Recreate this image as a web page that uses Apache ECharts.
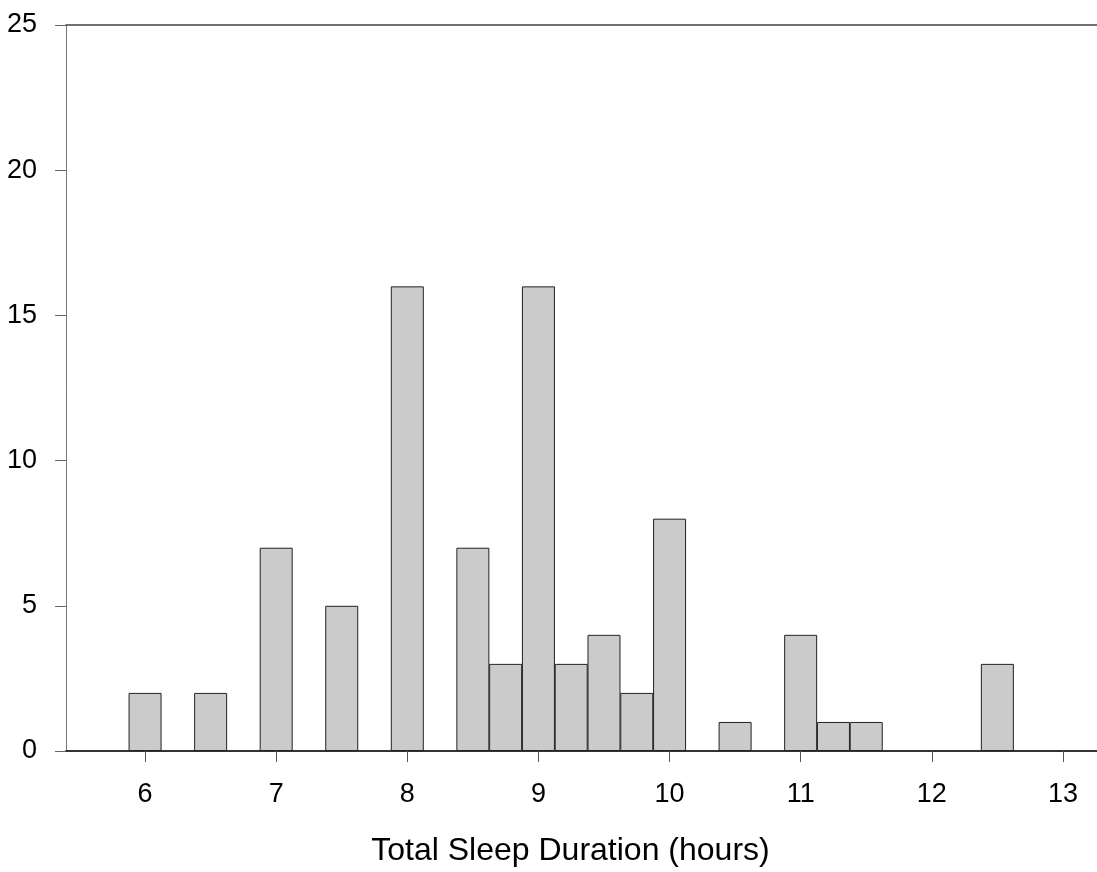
<!DOCTYPE html>
<html>
<head>
<meta charset="utf-8">
<script src="https://cdn.jsdelivr.net/npm/echarts@6/dist/echarts.min.js"></script>
<style>
html, body { margin: 0; padding: 0; background: #fff; }
#container { width: 1097px; height: 872px; }
</style>
</head>
<body>
<div id="container"></div>
<script>
// bin centres (hours) and counts
var hours = [6, 6.5, 7, 7.5, 8, 8.5, 8.75, 9, 9.25, 9.5, 9.75, 10, 10.5, 11, 11.25, 11.5, 12.5];
var counts = [2, 2, 7, 5, 16, 7, 3, 16, 3, 4, 2, 8, 1, 4, 1, 1, 3];
var xTicks = [6, 7, 8, 9, 10, 11, 12, 13];
var yTicks = [0, 5, 10, 15, 20, 25];

var dom = document.getElementById('container');
var myChart = echarts.init(dom);

var data = [];
for (var i = 0; i < hours.length; i++) {
    data.push([hours[i], counts[i]]);
}

var labelFont = { fontFamily: 'Liberation Sans', fontSize: 27, color: '#000' };

var option = {
    animation: false,
    grid: { left: 66, right: 0, top: 25, bottom: 120 },
    xAxis: [{
        type: 'value',
        min: 5.397,
        max: 13.26,
        splitLine: { show: false },
        axisLine: { show: true, lineStyle: { color: '#333', width: 2 } },
        axisTick: { show: true, length: 11, customValues: xTicks, lineStyle: { color: '#555', width: 1 } },
        axisLabel: Object.assign({ customValues: xTicks, margin: 30 }, labelFont),
        name: 'Total Sleep Duration (hours)',
        nameLocation: 'middle',
        nameGap: 84,
        nameTextStyle: { fontFamily: 'Liberation Sans', fontSize: 32, color: '#000', padding: [0, 22, 0, 0] }
    }, {
        type: 'value',
        position: 'top',
        min: 5.397,
        max: 13.26,
        splitLine: { show: false },
        axisLine: { show: true, lineStyle: { color: '#444', width: 1.5 } },
        axisTick: { show: false },
        axisLabel: { show: false }
    }],
    yAxis: {
        type: 'value',
        min: 0,
        max: 25,
        interval: 5,
        splitLine: { show: false },
        axisLine: { show: true, lineStyle: { color: '#777', width: 1 } },
        axisTick: { show: true, length: 11, lineStyle: { color: '#666' } },
        axisLabel: Object.assign({ margin: 29 }, labelFont)
    },
    series: [{
        type: 'bar',
        data: data,
        barWidth: 33,
        itemStyle: {
            color: '#cbcbcb',
            borderColor: '#222',
            borderWidth: 1
        }
    }]
};

myChart.setOption(option);
</script>
</body>
</html>
